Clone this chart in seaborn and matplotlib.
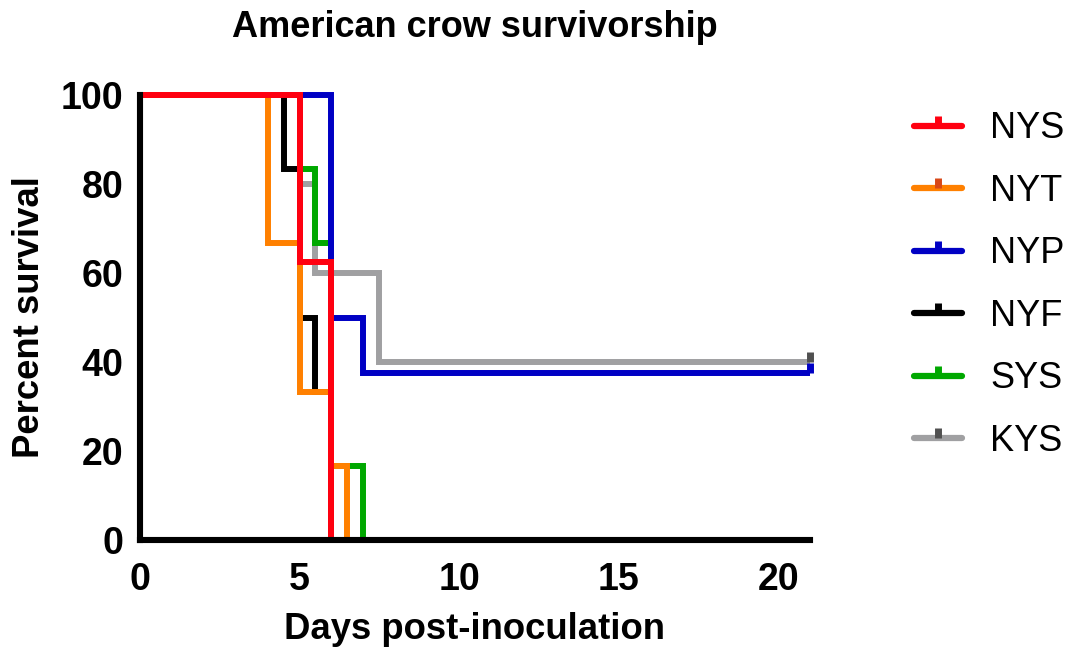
import matplotlib
matplotlib.use("Agg")
import matplotlib.pyplot as plt
from matplotlib.lines import Line2D
import seaborn as sns
import pandas as pd

# ---- data ----
groups = ["NYS", "NYT", "NYP", "NYF", "SYS", "KYS"]
nys_days = [0, 5, 6]
nys_surv = [100, 62.5, 0]
nyt_days = [0, 4, 5, 6, 6.5]
nyt_surv = [100, 66.7, 33.3, 16.7, 0]
nyp_days = [0, 6, 7, 21]
nyp_surv = [100, 50, 37.5, 37.5]
nyf_days = [0, 4.5, 5, 5.5, 6]
nyf_surv = [100, 83.3, 50, 33.3, 0]
sys_days = [0, 5, 5.5, 6, 7]
sys_surv = [100, 83.3, 66.7, 16.7, 0]
kys_days = [0, 5, 5.5, 7.5, 21]
kys_surv = [100, 80, 60, 40, 40]
censored = ["NYP", "KYS"]
x_ticks = [0, 5, 10, 15, 20]
y_ticks = [0, 20, 40, 60, 80, 100]

colors = {"NYS": "#FF0010", "NYT": "#FF8000", "NYP": "#0000C4",
          "NYF": "#000000", "SYS": "#00A800", "KYS": "#A0A0A2"}
censor_colors = {"NYS": "#FF0010", "NYT": "#D84818", "NYP": "#0000C4",
                 "NYF": "#000000", "SYS": "#00A800", "KYS": "#505050"}

series = {"NYS": (nys_days, nys_surv), "NYT": (nyt_days, nyt_surv),
          "NYP": (nyp_days, nyp_surv), "NYF": (nyf_days, nyf_surv),
          "SYS": (sys_days, sys_surv), "KYS": (kys_days, kys_surv)}

rows = []
for g in groups:
    d, s = series[g]
    for di, si in zip(d, s):
        rows.append({"group": g, "day": di, "surv": si})
df = pd.DataFrame(rows)

sns.set_theme(style="white")
plt.rcParams["font.family"] = ["Liberation Sans", "DejaVu Sans"]
plt.rcParams["text.color"] = "black"
plt.rcParams["axes.labelcolor"] = "black"
plt.rcParams["xtick.color"] = "black"
plt.rcParams["ytick.color"] = "black"

fig = plt.figure(figsize=(10.76, 6.56), dpi=100)
ax = fig.add_axes([140 / 1076, 1 - 540 / 656, 670 / 1076, 445 / 656])

draw_order = groups[::-1]
sns.lineplot(data=df, x="day", y="surv", hue="group", hue_order=draw_order,
             palette=colors, estimator=None, sort=False, drawstyle="steps-post",
             legend=False, ax=ax)
for ln in ax.lines:
    ln.set_linewidth(4.3)
    ln.set_solid_capstyle("butt")
    ln.set_solid_joinstyle("miter")
    ln.set_clip_on(False)

for g in censored:
    d, s = series[g]
    ax.plot([d[-1]], [s[-1]], linestyle="none", marker=2, markersize=7,
            markeredgewidth=5, color=censor_colors[g], clip_on=False, zorder=5)

ax.set_xlim(0, 21)
ax.set_ylim(0, 100)
ax.set_xticks(x_ticks)
ax.set_yticks(y_ticks)
for side in ["top", "right"]:
    ax.spines[side].set_visible(False)
for side in ["left", "bottom"]:
    ax.spines[side].set_linewidth(4.4)
    ax.spines[side].set_color("black")
    ax.spines[side].set_zorder(6)
ax.tick_params(axis="both", direction="out", length=7, width=4.4,
               colors="black", labelsize=27, pad=5)
ax.tick_params(axis="x", pad=9)
for lab in ax.get_xticklabels() + ax.get_yticklabels():
    lab.set_fontweight("bold")

ax.set_xlabel("Days post-inoculation", fontsize=26.3, fontweight="bold", labelpad=10)
ax.set_ylabel("Percent survival", fontsize=26.3, fontweight="bold", labelpad=10)
ax.set_title("American crow survivorship", fontsize=26, fontweight="bold", pad=42)

handles = [Line2D([0], [0], color=colors[g], lw=4.5, marker=2, markersize=7,
                  markeredgewidth=5, markeredgecolor=censor_colors[g])
           for g in groups]
leg = fig.legend(handles, groups, loc="upper left", bbox_to_anchor=(881 / 1076, 1 - 79 / 656),
                 frameon=False, fontsize=26, handlelength=1.33, handletextpad=0.8,
                 labelspacing=0.76, numpoints=1)

fig.savefig("out.png", dpi=100, facecolor="white")
